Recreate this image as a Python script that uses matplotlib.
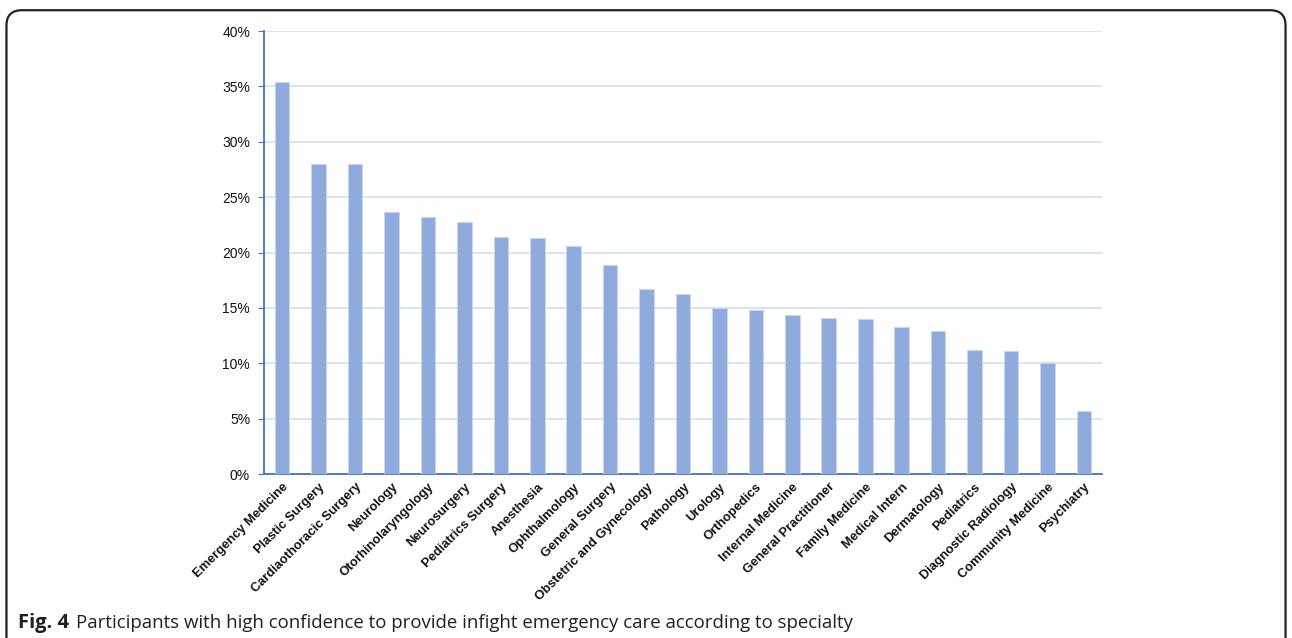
import matplotlib.pyplot as plt
from matplotlib.patches import FancyBboxPatch
from matplotlib.ticker import PercentFormatter

# Share of participants with high confidence, by specialty (%)
specialties = [
    "Emergency Medicine", "Plastic Surgery", "Cardiaothoracic Surgery", "Neurology",
    "Otorhinolaryngology", "Neurosurgery", "Pediatrics Surgery", "Anesthesia",
    "Ophthalmology", "General Surgery", "Obstetric and Gynecology", "Pathology",
    "Urology", "Orthopedics", "Internal Medicine", "General Practitioner",
    "Family Medicine", "Medical Intern", "Dermatology", "Pediatrics",
    "Diagnostic Radiology", "Community Medicine", "Psychiatry",
]
confidence = [
    35.4, 28.0, 28.0, 23.7, 23.2, 22.8, 21.4, 21.3, 20.6, 18.9, 16.7, 16.3,
    15.0, 14.8, 14.4, 14.1, 14.0, 13.3, 12.9, 11.2, 11.1, 10.0, 5.7,
]
y_ticks = [0, 5, 10, 15, 20, 25, 30, 35, 40]

fig = plt.figure(figsize=(12.92, 6.38), dpi=100)
ax = fig.add_axes([0.2043, 0.257, 0.6487, 0.6944])

x = range(len(specialties))
ax.bar(x, confidence, width=0.4, color="#8FAADC", edgecolor="#C9D6EE",
       linewidth=0.8, zorder=3)

ax.set_xlim(-0.5, len(specialties) - 0.5)
ax.set_ylim(0, 40)
ax.set_yticks(y_ticks)
ax.yaxis.set_major_formatter(PercentFormatter(decimals=0))
ax.grid(axis="y", color="#D6E0F2", linewidth=1.3, zorder=0)

for side in ["top", "right"]:
    ax.spines[side].set_visible(False)
for side in ["left", "bottom"]:
    ax.spines[side].set_color("#4472C4")
    ax.spines[side].set_linewidth(1.3)

ax.tick_params(axis="y", length=4, color="#4472C4", pad=6)
ax.tick_params(axis="x", length=0, pad=5)
for lbl in ax.get_yticklabels():
    lbl.set_fontfamily("Liberation Sans")
    lbl.set_fontsize(10)
    lbl.set_color("#111111")

ax.set_xticks(list(x))
ax.set_xticklabels(specialties, rotation=45, ha="right", va="top",
                   rotation_mode="anchor", family="Liberation Sans",
                   fontweight="bold", fontsize=9.3, color="#111111")

# rounded frame around the figure panel
frame = FancyBboxPatch((0.005, -0.05), 0.99, 1.034, transform=fig.transFigure,
                       boxstyle="round,pad=0,rounding_size=0.012",
                       facecolor="none", edgecolor="#222222", linewidth=1.6,
                       mutation_aspect=2.0)
fig.patches.append(frame)

# caption: bold figure number followed by the description
fig_num = fig.text(0.014, 0.016, "Fig. 4", fontsize=14.5, fontweight="bold",
                   family="Open Sans", color="#231F20")
fig.canvas.draw()
bb = fig_num.get_window_extent()
fig.text(bb.x1 / fig.bbox.width + 0.005, 0.016,
         "Participants with high confidence to provide infight emergency care according to specialty",
         fontsize=13.4, family="Open Sans", color="#231F20")

fig.savefig("out.png", dpi=100)
